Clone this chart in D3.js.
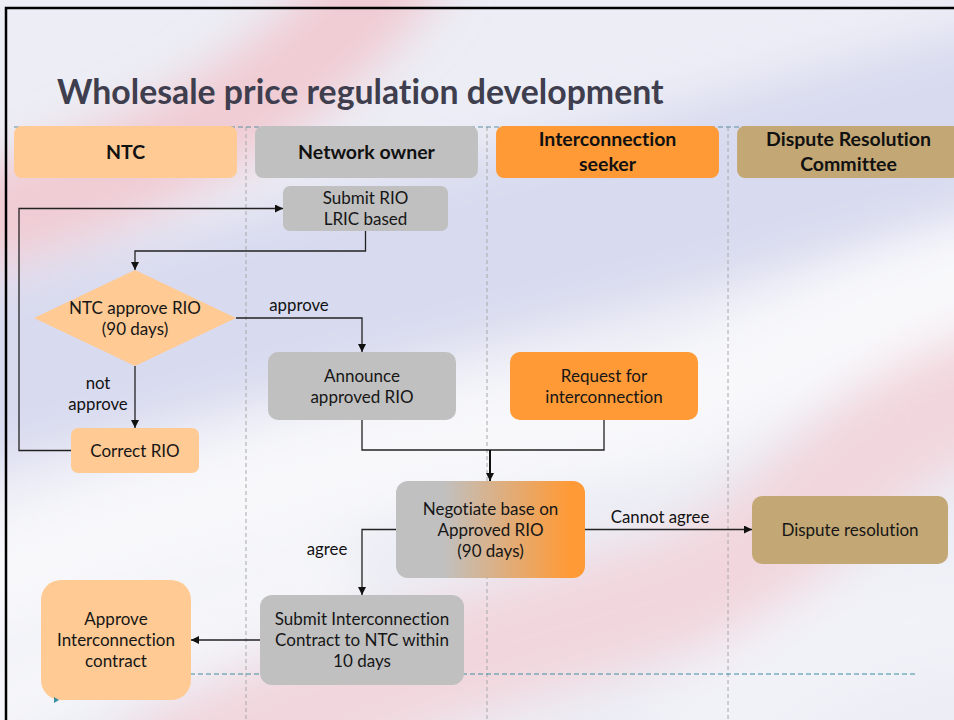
<!DOCTYPE html>
<html>
<head>
<meta charset="utf-8">
<script src="https://cdn.jsdelivr.net/npm/d3@7"></script>
<style>
  body { margin: 0; background: #fff; }
  text { font-family: Lato, "Open Sans", sans-serif; font-variant-ligatures: none; }
</style>
</head>
<body>
<svg></svg>
<script>
const width = 954, height = 720;

// swim lanes
const laneNames = ["NTC", "Network owner", "Interconnection seeker", "Dispute Resolution Committee"];
const laneLabels = [["NTC"], ["Network owner"], ["Interconnection", "seeker"], ["Dispute Resolution", "Committee"]];
const laneFills = ["#FFCA94", "#C0C0C0", "#FF9A36", "#C3A875"];

// process steps
const stepIds = ["submit", "decide", "announce", "request", "correct", "negotiate", "dispute", "contract", "approve"];
const stepLabels = [
  ["Submit RIO", "LRIC based"],
  ["NTC approve RIO", "(90 days)"],
  ["Announce", "approved RIO"],
  ["Request for", "interconnection"],
  ["Correct RIO"],
  ["Negotiate base on", "Approved RIO", "(90 days)"],
  ["Dispute resolution"],
  ["Submit Interconnection", "Contract to NTC within", "10 days"],
  ["Approve", "Interconnection", "contract"]
];
const stepLanes = [1, 0, 1, 2, 0, 1, 3, 1, 0];

// flows: from, to, label
const flowFrom = ["correct", "submit", "decide", "decide", "announce", "request", "negotiate", "negotiate", "contract"];
const flowTo = ["submit", "decide", "announce", "correct", "negotiate", "negotiate", "dispute", "contract", "approve"];
const flowLabels = ["", "", "approve", "not\napprove", "", "", "Cannot agree", "agree", ""];

// geometry (layout only)
const geom = {
  submit: { x: 283, y: 186, w: 165, h: 45, r: 7 },
  decide: { x: 34, y: 270, w: 202, h: 96 },
  announce: { x: 268, y: 352, w: 188, h: 68, r: 10 },
  request: { x: 510, y: 352, w: 188, h: 68, r: 10 },
  correct: { x: 71, y: 428, w: 128, h: 45, r: 7 },
  negotiate: { x: 396, y: 481, w: 189, h: 97, r: 12 },
  dispute: { x: 752, y: 496, w: 196, h: 68, r: 10 },
  contract: { x: 260, y: 595, w: 204, h: 90, r: 12 },
  approve: { x: 41, y: 580, w: 150, h: 120, r: 20 }
};

const svg = d3.select("svg").attr("width", width).attr("height", height);
const defs = svg.append("defs");

defs.append("filter").attr("id", "blur")
  .attr("x", "-20%").attr("y", "-20%").attr("width", "140%").attr("height", "140%")
  .append("feGaussianBlur").attr("stdDeviation", 24);

const grad = defs.append("linearGradient").attr("id", "neg").attr("x1", "0").attr("x2", "1");
grad.append("stop").attr("offset", "0.25").attr("stop-color", "#C0C0C0");
grad.append("stop").attr("offset", "0.92").attr("stop-color", "#FF9A36");

defs.append("marker").attr("id", "arrow")
  .attr("viewBox", "0 0 10 10").attr("refX", 10).attr("refY", 5)
  .attr("markerWidth", 8).attr("markerHeight", 8).attr("markerUnits", "userSpaceOnUse")
  .attr("orient", "auto")
  .append("path").attr("d", "M0,0L10,5L0,10z").attr("fill", "#111");

// background with faded waving flag
svg.append("rect").attr("width", width).attr("height", height).attr("fill", "#ECEDF5");
const bg = svg.append("g").attr("filter", "url(#blur)").attr("fill", "none");
const bands = [
  { d: "M400,-40 C320,70 180,170 -40,225", c: "#F1C3CA", w: 100, o: 0.8 },
  { d: "M-40,380 C200,320 420,260 620,215 C760,180 860,150 990,120", c: "#D3D6EE", w: 180, o: 0.8 },
  { d: "M-40,590 C200,500 420,440 600,420 C720,410 800,330 990,270", c: "#FAFAFD", w: 110, o: 0.85 },
  { d: "M170,770 C380,670 560,630 690,590 C800,540 860,430 990,390", c: "#F4CDD3", w: 120, o: 0.7 },
  { d: "M-40,720 C80,660 200,620 320,580", c: "#F7F7FB", w: 80, o: 0.8 },
  { d: "M700,740 C780,660 860,620 990,610", c: "#F2F3F9", w: 120, o: 0.8 }
];
bg.selectAll("path").data(bands).join("path")
  .attr("d", d => d.d).attr("stroke", d => d.c).attr("stroke-width", d => d.w)
  .attr("stroke-opacity", d => d.o).attr("stroke-linecap", "round");

// frame
svg.append("path").attr("d", "M6,720 V8 H954").attr("fill", "none").attr("stroke", "#000").attr("stroke-width", 2.5);

// title
svg.append("text").attr("x", 57).attr("y", 104)
  .attr("font-size", 33.8).attr("font-weight", 700).attr("fill", "#3E3E4E")
  .text("Wholesale price regulation development");

// lanes
const x = d3.scaleBand().domain(laneNames).range([14, 960]).paddingInner(0.075);
const gap = x.step() - x.bandwidth();

svg.append("g").selectAll("line").data(laneNames.slice(1)).join("line")
  .attr("x1", d => x(d) - gap / 2).attr("x2", d => x(d) - gap / 2)
  .attr("y1", 127).attr("y2", 720)
  .attr("stroke", "#A8A8A8").attr("stroke-width", 1).attr("stroke-dasharray", "4,3");

svg.append("line").attr("x1", 14).attr("x2", 954).attr("y1", 127).attr("y2", 127)
  .attr("stroke", "#5F8FA0").attr("stroke-width", 1).attr("stroke-dasharray", "5,3");
svg.append("line").attr("x1", 190).attr("x2", 918).attr("y1", 674).attr("y2", 674)
  .attr("stroke", "#3E8E9E").attr("stroke-width", 1.2).attr("stroke-dasharray", "5,3");

const heads = svg.append("g").selectAll("g").data(laneNames).join("g");
heads.append("rect")
  .attr("x", d => x(d)).attr("y", 126)
  .attr("width", x.bandwidth()).attr("height", 52).attr("rx", 8)
  .attr("fill", (d, i) => laneFills[i]);
heads.append("text")
  .attr("x", d => x(d) + x.bandwidth() / 2)
  .attr("text-anchor", "middle").attr("font-size", 19.5).attr("font-weight", 700).attr("fill", "#111")
  .each(function (d, i) {
    const lines = laneLabels[i];
    const y0 = 158.5 - (lines.length - 1) * 12.5;
    d3.select(this).selectAll("tspan").data(lines).join("tspan")
      .attr("x", x(d) + x.bandwidth() / 2)
      .attr("y", (l, j) => y0 + j * 25)
      .text(l => l);
  });

// connectors
function box(id) { return geom[id]; }
function cx(id) { const b = box(id); return b.x + b.w / 2; }
function cy(id) { const b = box(id); return b.y + b.h / 2; }

function route(from, to) {
  const a = box(from), b = box(to);
  if (from === "correct") return [[a.x, cy(from)], [19, cy(from)], [19, cy(to)], [b.x, cy(to)]];
  if (from === "submit") { const m = a.y + a.h + 20; return [[cx(from), a.y + a.h], [cx(from), m], [cx(to), m], [cx(to), b.y]]; }
  if (from === "decide" && to === "announce") return [[a.x + a.w, cy(from)], [cx(to), cy(from)], [cx(to), b.y]];
  if (from === "decide") return [[cx(from), a.y + a.h], [cx(to), b.y]];
  if (to === "negotiate") { const m = a.y + a.h + 30; return [[cx(from), a.y + a.h], [cx(from), m], [490, m]]; }
  if (to === "dispute") return [[a.x + a.w, cy(from)], [b.x, cy(from)]];
  if (to === "contract") return [[a.x, cy(from)], [cx(to), cy(from)], [cx(to), b.y]];
  return [[a.x, cy(from)], [b.x + b.w, cy(from)]];
}

const line = d3.line();
const flows = svg.append("g");
flowFrom.forEach((f, i) => {
  const t = flowTo[i];
  const pts = route(f, t);
  const arrowed = !(t === "negotiate");
  flows.append("path").attr("d", line(pts)).attr("fill", "none")
    .attr("stroke", "#222").attr("stroke-width", 1.3)
    .attr("marker-end", arrowed ? "url(#arrow)" : null);
});
// joint arrow into negotiate
flows.append("path").attr("d", line([[490, 450], [490, geom.negotiate.y]]))
  .attr("stroke", "#111").attr("stroke-width", 2).attr("marker-end", "url(#arrow)");

// flow labels
const labelPos = { approve: [299, 311], "not\napprove": [98, 389], "Cannot agree": [660, 523], agree: [327, 555] };
flowLabels.filter(l => l).forEach(l => {
  const p = labelPos[l];
  const t = svg.append("text").attr("text-anchor", "middle").attr("font-size", 16.8).attr("fill", "#111");
  l.split("\n").forEach((s, j) => t.append("tspan").attr("x", p[0]).attr("y", p[1] + j * 21).text(s));
});

// steps
const stepFill = id => {
  const lane = stepLanes[stepIds.indexOf(id)];
  if (id === "negotiate") return "url(#neg)";
  return laneFills[lane];
};

const nodes = svg.append("g").selectAll("g").data(stepIds).join("g");
nodes.each(function (id, i) {
  const g = d3.select(this), b = geom[id];
  if (id === "decide") {
    g.append("path").attr("fill", stepFill(id))
      .attr("d", `M${b.x},${b.y + b.h / 2}L${b.x + b.w / 2},${b.y}L${b.x + b.w},${b.y + b.h / 2}L${b.x + b.w / 2},${b.y + b.h}Z`);
  } else {
    g.append("rect").attr("x", b.x).attr("y", b.y).attr("width", b.w).attr("height", b.h)
      .attr("rx", b.r).attr("fill", stepFill(id));
  }
  const lines = stepLabels[i];
  const lh = 21;
  const y0 = b.y + b.h / 2 - (lines.length - 1) * lh / 2 + 6;
  const t = g.append("text").attr("text-anchor", "middle").attr("font-size", 17).attr("fill", "#161616");
  lines.forEach((s, j) => t.append("tspan").attr("x", b.x + b.w / 2).attr("y", y0 + j * lh).text(s));
});

// small bullet at bottom left
svg.append("path").attr("d", "M54,697L59,700L54,703Z").attr("fill", "#3E8E9E");
</script>
</body>
</html>
